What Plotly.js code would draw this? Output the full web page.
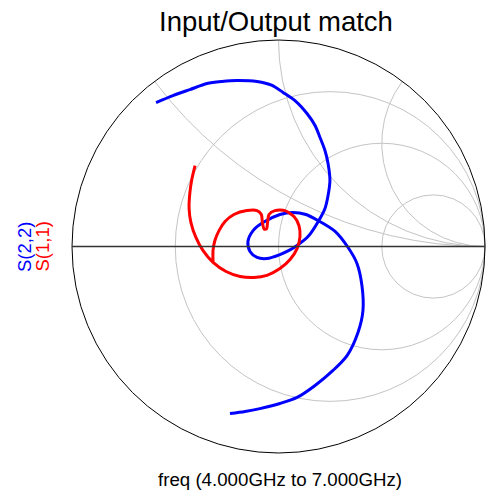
<!DOCTYPE html>
<html>
<head>
<meta charset="utf-8">
<script src="https://cdn.plot.ly/plotly-3.0.1.min.js"></script>
<style>html,body{margin:0;padding:0;background:#fff;}#chart{width:495px;height:492px;}</style>
</head>
<body>
<div id="chart"></div>
<script>
// Reflection coefficients (Gamma = re + j*im), frequency 4 GHz -> 7 GHz
var s22Re = [-0.593,-0.511,-0.429,-0.346,-0.274,-0.201,-0.104,-0.031,0.022,0.085,0.138,0.177,0.201,0.225,0.240,0.249,0.240,0.225,0.201,0.143,0.090,0.051,0.007,-0.056,-0.104,-0.138,-0.148,-0.123,-0.075,0.007,0.070,0.133,0.191,0.274,0.337,0.380,0.404,0.409,0.385,0.332,0.264,0.177,0.090,0.007,-0.090,-0.162,-0.235];
var s22Im = [0.697,0.731,0.760,0.789,0.799,0.804,0.799,0.780,0.746,0.702,0.644,0.586,0.528,0.465,0.402,0.320,0.247,0.184,0.136,0.048,0.005,-0.019,-0.039,-0.058,-0.053,-0.024,0.024,0.077,0.116,0.155,0.165,0.155,0.126,0.073,-0.005,-0.082,-0.189,-0.310,-0.416,-0.528,-0.600,-0.673,-0.731,-0.760,-0.785,-0.799,-0.809];
var s11Re = [-0.317,-0.317,-0.308,-0.288,-0.259,-0.216,-0.153,-0.104,-0.083,-0.078,-0.070,-0.058,-0.053,-0.046,-0.017,0.031,0.075,0.099,0.104,0.090,0.056,0.007,-0.056,-0.119,-0.186,-0.254,-0.317,-0.366,-0.400,-0.424,-0.433,-0.429,-0.419,-0.404];
var s11Im = [-0.077,-0.019,0.029,0.077,0.121,0.155,0.174,0.174,0.155,0.116,0.085,0.085,0.116,0.155,0.174,0.174,0.145,0.102,0.048,-0.010,-0.063,-0.107,-0.140,-0.150,-0.145,-0.121,-0.077,-0.019,0.044,0.116,0.184,0.262,0.329,0.392];
var resistanceGrid = [1/3, 1, 3];
var reactanceGrid = [0.5, 1, 2];
var titleText = 'Input/Output match';
var legendNames = ['S(2,2)', 'S(1,1)'];
var freqText = 'freq (4.000GHz to 7.000GHz)';

function toZ(re, im) {
  var r = [], x = [];
  for (var i = 0; i < re.length; i++) {
    var a = re[i], b = im[i];
    var den = (1 - a) * (1 - a) + b * b;
    r.push((1 - a * a - b * b) / den);
    x.push(2 * b / den);
  }
  return {r: r, x: x};
}
var z22 = toZ(s22Re, s22Im);
var z11 = toZ(s11Re, s11Im);

var FONT = 'Liberation Sans, Arial, sans-serif';
var traces = [
  {type: 'scattersmith', real: z22.r, imag: z22.x, mode: 'lines', name: legendNames[0],
   line: {color: '#0000ff', width: 3, shape: 'spline', smoothing: 0.8}},
  {type: 'scattersmith', real: z11.r, imag: z11.x, mode: 'lines', name: legendNames[1],
   line: {color: '#ff0000', width: 3, shape: 'spline', smoothing: 0.7}}
];
var layout = {
  width: 495, height: 492,
  margin: {l: 0, r: 0, t: 0, b: 0},
  paper_bgcolor: '#ffffff',
  showlegend: false,
  font: {family: FONT, color: '#000'},
  smith: {
    domain: {x: [72/495, 485/495], y: [39/492, 452/492]},
    bgcolor: '#ffffff',
    realaxis: {tickvals: resistanceGrid, showticklabels: false, ticks: '', gridcolor: '#c4c4c4', gridwidth: 1, linecolor: '#333333', linewidth: 1.5, showline: true},
    imaginaryaxis: {tickvals: reactanceGrid, showticklabels: false, ticks: '', gridcolor: '#c4c4c4', gridwidth: 1, linecolor: '#000000', linewidth: 1, showline: true}
  },
  annotations: [
    {text: titleText, xref: 'paper', yref: 'paper', x: 275.5/495, y: 1 - 22/492, xanchor: 'center', yanchor: 'middle', showarrow: false, font: {size: 27.5, family: FONT, color: '#000'}},
    {text: freqText, xref: 'paper', yref: 'paper', x: 279.5/495, y: 1 - 479/492, xanchor: 'center', yanchor: 'middle', showarrow: false, font: {size: 18.7, family: FONT, color: '#000'}},
    {text: legendNames[0], xref: 'paper', yref: 'paper', x: 24/495, y: 1 - 247/492, xanchor: 'center', yanchor: 'middle', textangle: -90, showarrow: false, font: {size: 18.5, family: FONT, color: '#0000ff'}},
    {text: legendNames[1], xref: 'paper', yref: 'paper', x: 41.5/495, y: 1 - 247/492, xanchor: 'center', yanchor: 'middle', textangle: -90, showarrow: false, font: {size: 18.5, family: FONT, color: '#ff0000'}}
  ]
};
Plotly.newPlot('chart', traces, layout, {staticPlot: true, displayModeBar: false});
</script>
</body>
</html>
